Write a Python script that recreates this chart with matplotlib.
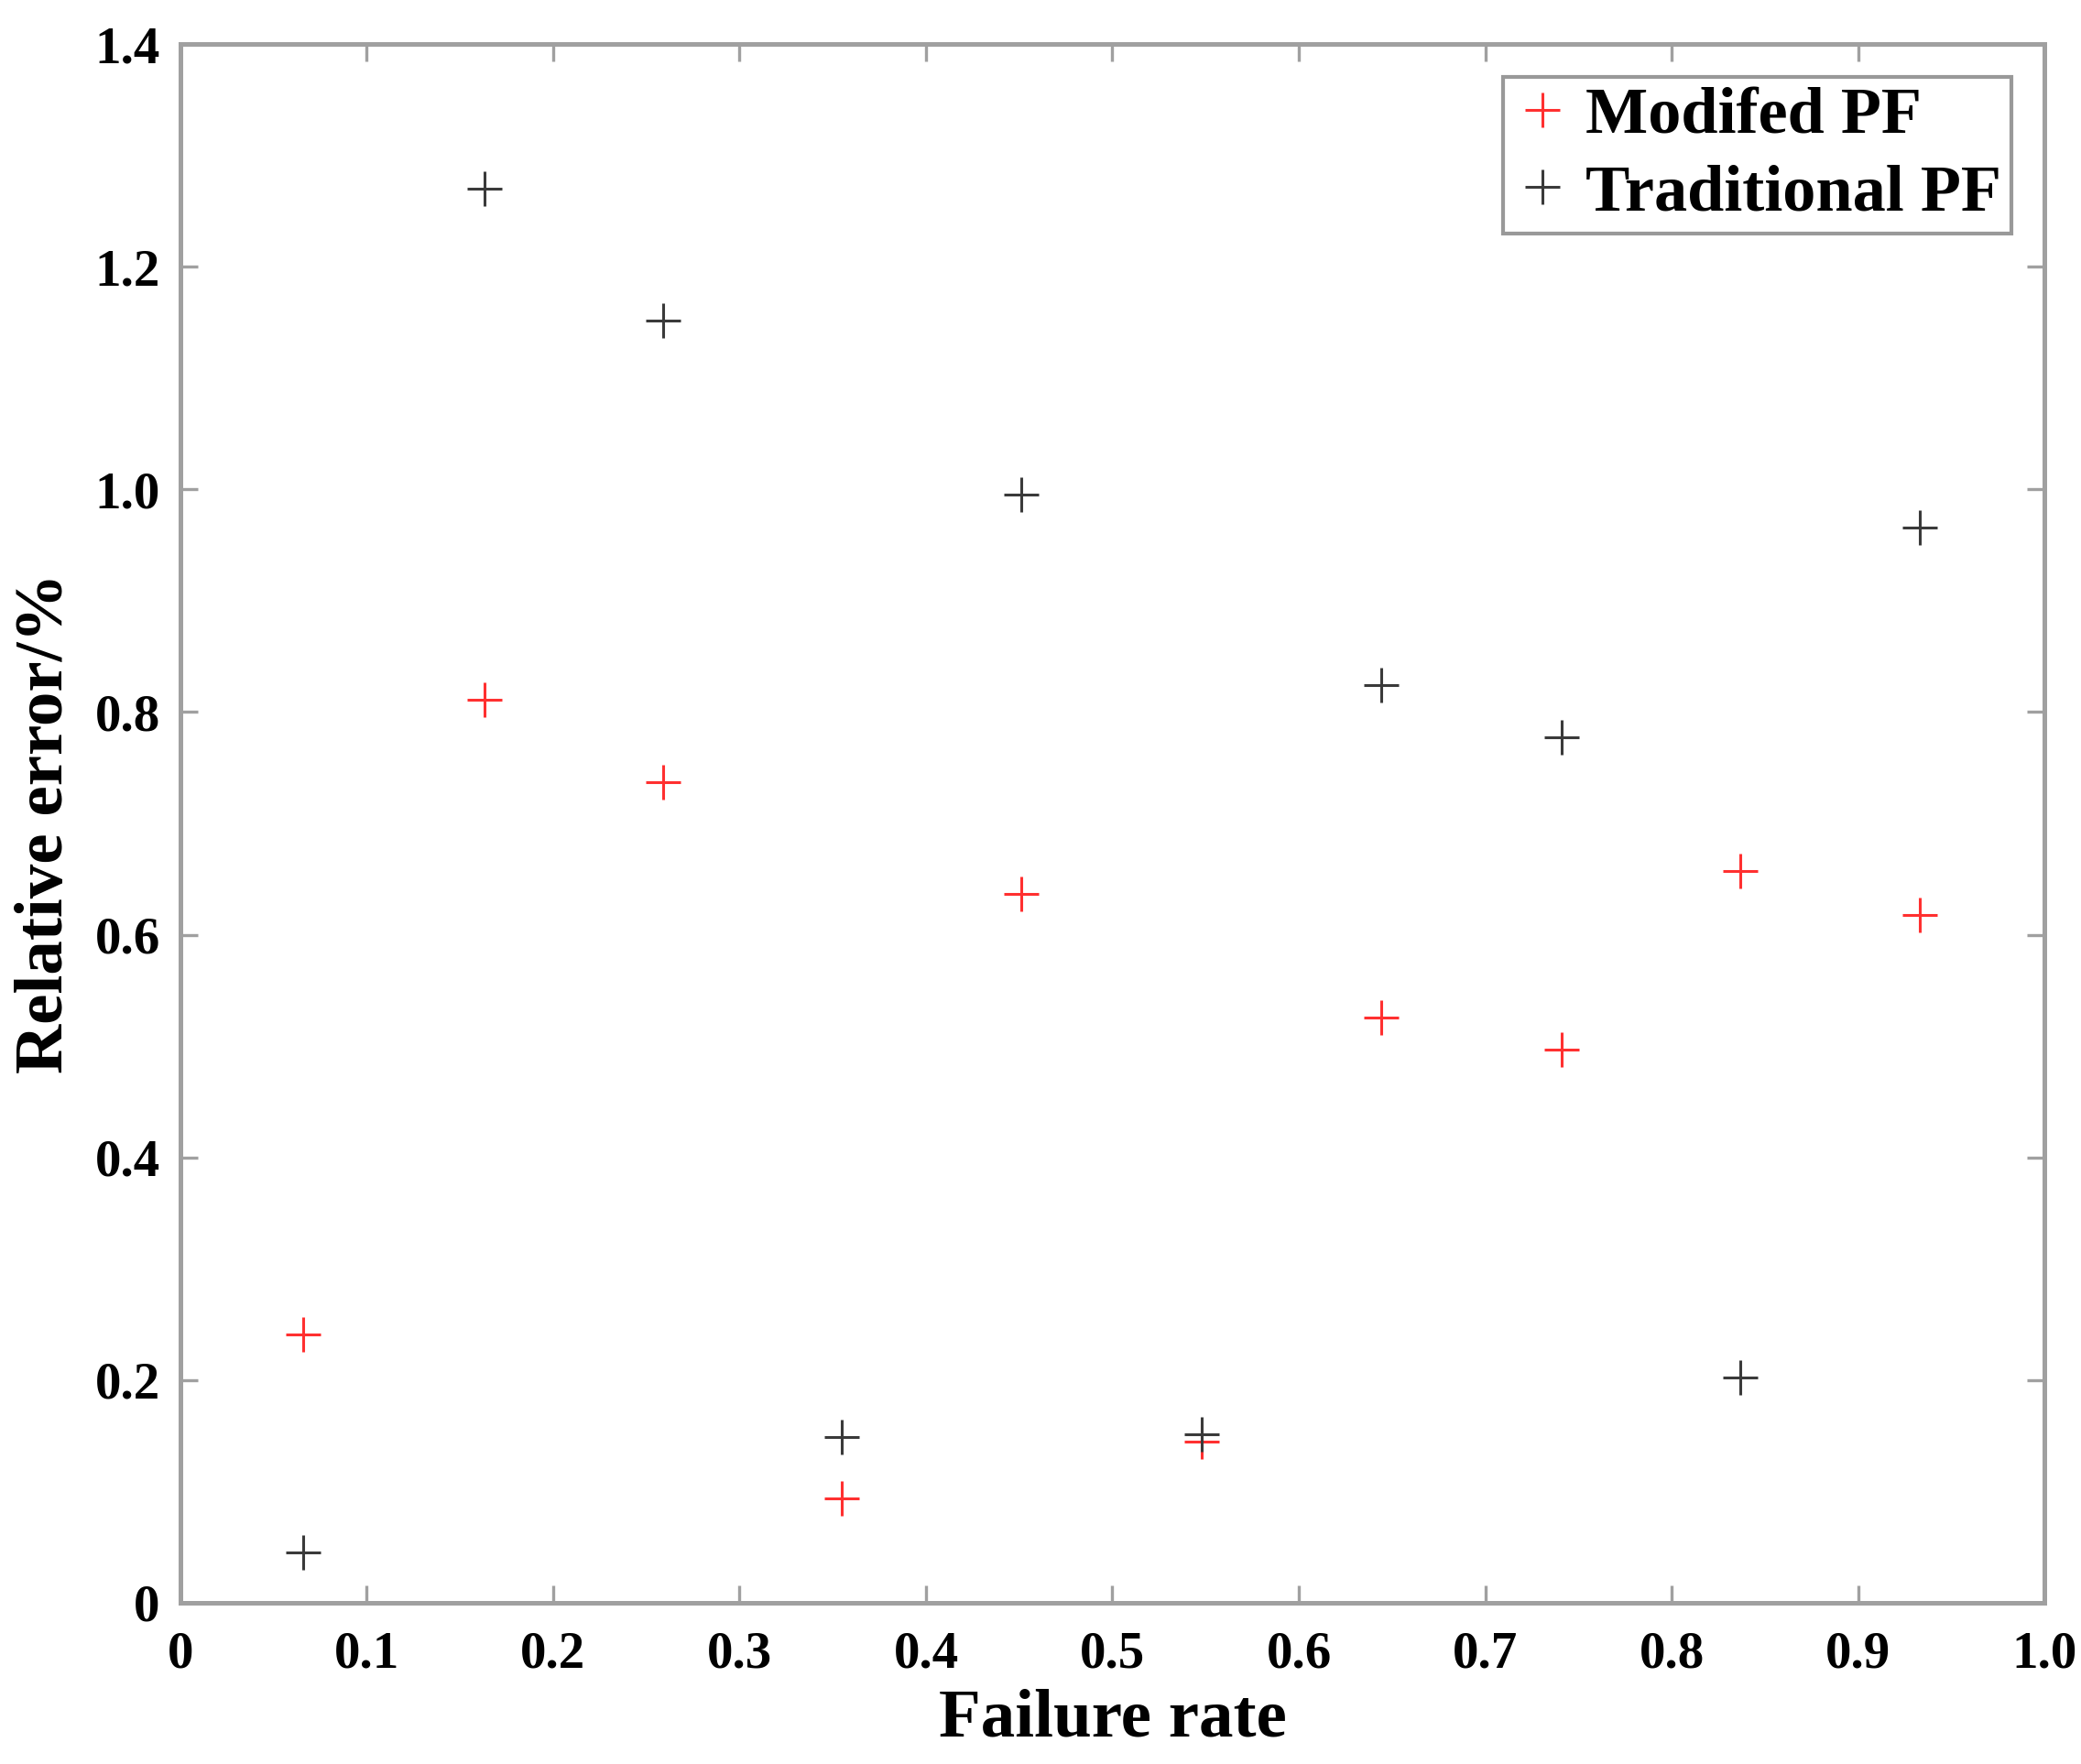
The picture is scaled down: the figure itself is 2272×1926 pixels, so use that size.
import numpy as np
import matplotlib
matplotlib.use('Agg')
import matplotlib.pyplot as plt

# values
failure_rate = [0.066, 0.163, 0.259, 0.355, 0.451, 0.548, 0.644, 0.741, 0.837, 0.933]
modified_pf = [0.241, 0.811, 0.737, 0.094, 0.637, 0.145, 0.526, 0.497, 0.657, 0.618]
traditional_pf = [0.045, 1.270, 1.152, 0.149, 0.995, 0.151, 0.824, 0.777, 0.202, 0.966]

x_ticks = [0, 0.1, 0.2, 0.3, 0.4, 0.5, 0.6, 0.7, 0.8, 0.9, 1.0]
x_labels = ['0', '0.1', '0.2', '0.3', '0.4', '0.5', '0.6', '0.7', '0.8', '0.9', '1.0']
y_ticks = [0, 0.2, 0.4, 0.6, 0.8, 1.0, 1.2, 1.4]
y_labels = ['0', '0.2', '0.4', '0.6', '0.8', '1.0', '1.2', '1.4']

plt.rcParams['font.family'] = ['Liberation Serif', 'DejaVu Serif']
plt.rcParams['font.weight'] = 'bold'

fig = plt.figure(figsize=(11.36, 9.63), dpi=200)
ax = fig.add_axes([0.0867, 0.0914, 0.8957, 0.8836])

ax.plot(failure_rate, modified_pf, linestyle='none', marker='+', color='#ff3030',
        markersize=14, markeredgewidth=1.1, label='Modifed PF')
ax.plot(failure_rate, traditional_pf, linestyle='none', marker='+', color='#3a3a3a',
        markersize=14, markeredgewidth=1.1, label='Traditional PF')

ax.set_xlim(0, 1.0)
ax.set_ylim(0, 1.4)
ax.set_xticks(x_ticks)
ax.set_xticklabels(x_labels)
ax.set_yticks(y_ticks)
ax.set_yticklabels(y_labels)

for s in ax.spines.values():
    s.set_color('#a0a0a0')
    s.set_linewidth(1.8)
ax.tick_params(direction='in', length=7, width=1.2, color='#a0a0a0',
               top=True, right=True, labelsize=20.5)
ax.tick_params(axis='x', pad=11)
ax.tick_params(axis='y', pad=8)

ax.set_xlabel('Failure rate', fontsize=27, fontweight='bold', labelpad=4)
ax.set_ylabel('Relative error/%', fontsize=27, fontweight='bold', labelpad=7)

leg = ax.legend(loc='upper right', fontsize=26, frameon=True, fancybox=False,
                handlelength=0.9, handletextpad=0.2, borderpad=0.15,
                labelspacing=0.25, borderaxespad=0.5)
leg.get_frame().set_edgecolor('#808080')
leg.get_frame().set_linewidth(1.5)

fig.savefig('out.png', dpi=200)
